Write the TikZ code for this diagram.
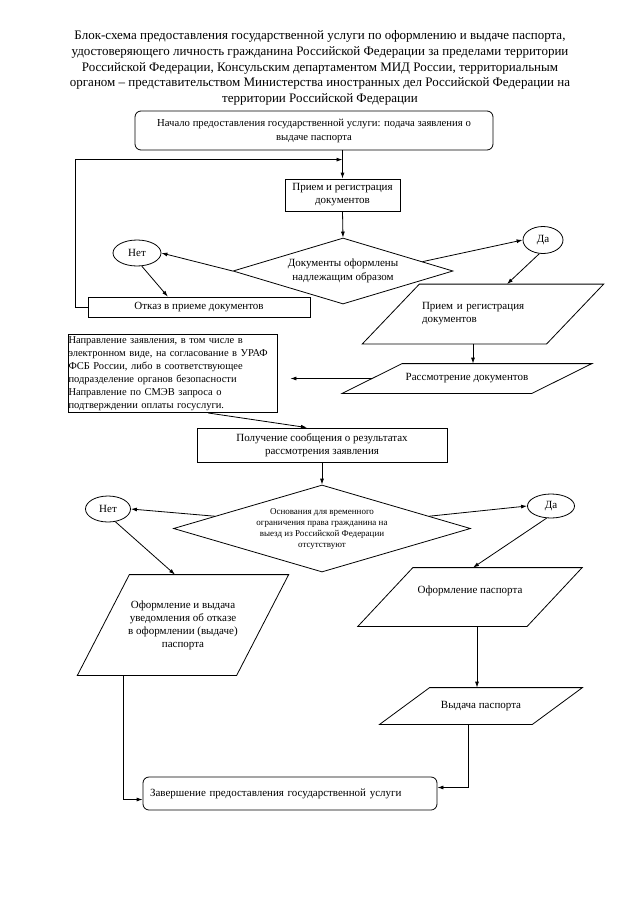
\documentclass[tikz,border=0pt]{standalone}
\usepackage{fontspec}
\setmainfont{Liberation Serif}
\usetikzlibrary{shapes.geometric,arrows.meta,calc}
\newcommand{\slanted}[2]{\draw ($(#1.south west)+(-#2,0)$) -- ($(#1.north west)+(#2,0)$) -- ($(#1.north east)+(#2,0)$) -- ($(#1.south east)+(-#2,0)$) -- cycle;}
\begin{document}
\begin{tikzpicture}[x=1pt, y=-1pt, line width=0.8pt,
    process/.style ={rectangle, draw, inner sep=2pt, align=center, font=\fontsize{11}{13}\selectfont},
    terminal/.style ={process, rounded corners=6pt},
    answer/.style ={ellipse, draw, inner sep=0pt, font=\fontsize{11}{13}\selectfont},
    decision/.style ={diamond, draw, inner sep=0pt, align=center, font=\fontsize{11}{14}\selectfont},
    data/.style ={rectangle, inner sep=1pt, align=center, font=\fontsize{11}{13}\selectfont},
    arrow/.style ={-{Latex[length=6pt, width=4pt]}}]
   \useasboundingbox (0,0) rectangle (640,905);
   \node[align=center, font=\fontsize{13}{15.7}\selectfont] (title) at (320,68) {Блок-схема предоставления государственной услуги по оформлению и выдаче паспорта,\\удостоверяющего личность гражданина Российской Федерации за пределами территории\\Российской Федерации, Консульским департаментом МИД России, территориальным\\органом -- представительством Министерства иностранных дел Российской Федерации  на\\территории Российской Федерации};
   \node[terminal, minimum width=358, minimum height=39, font=\fontsize{10.7}{14}\selectfont] (start) at (314,130.5) {Начало предоставления государственной услуги: подача заявления о\\выдаче паспорта};
   \node[process, minimum width=115, minimum height=32] (reg) at (342.5,195) {Прием и регистрация\\документов};
   \node[decision, aspect=3.3, minimum width=220, minimum height=66] (dok) at (343,271) {Документы оформлены\\надлежащим образом};
   \node[answer, minimum width=48, minimum height=26] (net1) at (137,253) {Нет};
   \node[answer, minimum width=40, minimum height=27] (da1) at (543,240) {Да};
   \node[process, minimum width=222, minimum height=20] (otkaz) at (199,307) {Отказ в приеме документов};
   \node[data, minimum width=183.5, minimum height=59, text width=122, align=left] (priem) at (483,314) {Прием и регистрация\\документов};
   \node[data, minimum width=189, minimum height=29] (rass) at (467,378.5) {Рассмотрение документов};
   \node[process, minimum width=209, minimum height=77, text width=208, align=left, inner xsep=0.5pt, font=\fontsize{10.5}{13}\selectfont] (napr) at (172.5,373.5) {Направление заявления, в том числе в\\электронном виде, на согласование в УРАФ\\ФСБ России,  либо в соответствующее\\подразделение органов безопасности\\Направление по СМЭВ запроса о\\подтверждении оплаты госуслуги.};
   \node[process, minimum width=250, minimum height=34] (poluch) at (322,445) {Получение сообщения о результатах\\рассмотрения заявления};
   \node[decision, aspect=3.4, minimum width=297, minimum height=87, font=\fontsize{9}{11}\selectfont] (osn) at (322,528.5) {Основания для временного\\ограничения права гражданина на\\выезд из Российской Федерации\\отсутствуют};
   \node[answer, minimum width=45, minimum height=26] (net2) at (108,509) {Нет};
   \node[answer, minimum width=47, minimum height=24] (da2) at (551,506) {Да};
   \node[data, minimum width=158.5, minimum height=100] (otkazdoc) at (183,625) {Оформление и выдача\\уведомления об отказе\\в оформлении (выдаче)\\паспорта};
   \node[data, minimum width=168.5, minimum height=58] (oform) at (470,597) {\raisebox{3.5pt}[0pt][0pt]{Оформление паспорта}};
   \node[data, minimum width=152, minimum height=36] (vydacha) at (481,706) {Выдача паспорта};
   \node[terminal, minimum width=294, minimum height=33, text width=280, align=left, inner xsep=7pt] (finish) at (290,793.5) {Завершение предоставления государственной услуги};
   \slanted{priem}{28.5}
   \slanted{rass}{30}
   \slanted{otkazdoc}{26}
   \slanted{oform}{27.5}
   \slanted{vydacha}{25}
   \draw[arrow] (start.south -| reg.north) -- (reg.north);
   \draw[arrow] (otkaz.west) -- ++(-12,0) |- ($(reg.north)+(0,-19)$);
   \draw[arrow] (reg.south) -- (dok.north);
   \draw[arrow] (dok.west) -- (net1.east);
   \draw[arrow] (net1.290) -- ($(otkaz.north west)!0.36!(otkaz.north east)$);
   \draw[arrow] ($(dok.north)!0.72!(dok.east)$) -- (da1.west);
   \draw[arrow] (da1.255) -- ($(priem.north)+(24,0)$);
   \coordinate (a1) at ($(priem.south)+(-10,0)$);
   \draw[arrow] (a1) -- (a1 |- rass.north);
   \draw[arrow, shorten >=13pt] (rass.west) -- (rass.west -| napr.east);
   \draw[arrow] ($(napr.south west)!0.67!(napr.south east)$) -- ($(poluch.north west)!0.44!(poluch.north east)$);
   \draw[arrow] (poluch.south) -- (osn.north);
   \draw[arrow] ($(osn.north)!0.72!(osn.west)$) -- (net2.east);
   \draw[arrow] (net2.300) -- ($(otkazdoc.north)+(-8,0)$);
   \draw[arrow] ($(osn.north)!0.72!(osn.east)$) -- (da2.west);
   \draw[arrow] (da2.250) -- ($(oform.north)+(3,0)$);
   \coordinate (a2) at ($(oform.south)+(7,0)$);
   \draw[arrow] (a2) -- (a2 |- vydacha.north);
   \coordinate (a3) at ($(vydacha.south)+(-13,0)$);
   \draw[arrow] (a3) |- ($(finish.east)+(0,-6)$);
   \coordinate (a4) at ($(otkazdoc.south)+(-60,0)$);
   \draw[arrow] (a4) |- ($(finish.west)+(0,6)$);
\end{tikzpicture}
\end{document}
